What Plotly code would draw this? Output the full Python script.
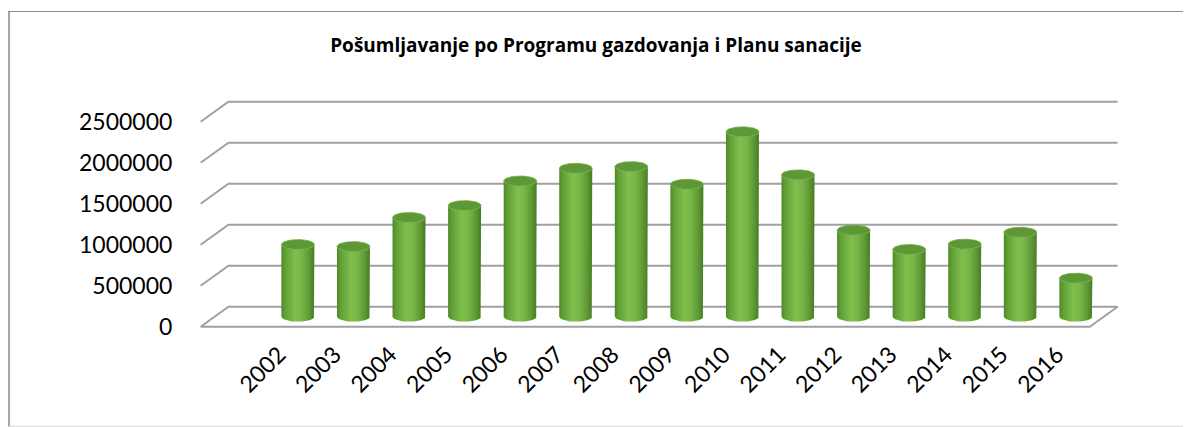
import numpy as np
import plotly.graph_objects as go

# ---- data ----
years = [str(y) for y in range(2002, 2017)]
values = [880000, 855000, 1210000, 1355000, 1655000, 1810000, 1830000, 1615000,
          2255000, 1730000, 1055000, 820000, 885000, 1030000, 470000]
y_ticks = [0, 500000, 1000000, 1500000, 2000000, 2500000]
y_tick_labels = [str(v) for v in y_ticks]
title_text = "Pošumljavanje po Programu gazdovanja i Planu sanacije"

# ---- geometry (pixel layout of the pseudo-3D frame) ----
OFF = 8                                        # browser body margin
W, H = 1191 - OFF, 427 - OFF
PL, PR, PT, PB = 200 - OFF, 1120 - OFF, 90 - OFF, 330 - OFF   # plot area in figure pixels
X0PX, XSTEP = 284.0 - OFF, 55.57               # front position of category 0, category step
Y0PX, YPX = 326.7 - OFF, 82.0 / 1e6            # front position of value 0, pixels per unit
DX = 0.5                                       # depth offset (categories)
DY = 20.0 / YPX                                # depth offset (value units)
RX = 16.5 / XSTEP                              # cylinder half width
RY = 5.0 / YPX                                 # ellipse half height
LABEL_SHIFT = -0.09                            # x-label anchor shift (categories)

x_range = [(PL - X0PX) / XSTEP, (PR - X0PX) / XSTEP]
y_range = [(Y0PX - PB) / YPX, (Y0PX - PT) / YPX]

FONT = "Lato, 'Open Sans', sans-serif"
TITLE_FONT = "'Open Sans', sans-serif"
GRID = "#a0a0a0"

fig = go.Figure()

# gridlines on back wall + left side wall
gx, gy = [], []
xl_front, xl_back = -1.5, -1.0
xr_front, xr_back = len(years) - 0.5, len(years)
for v in y_ticks[1:]:
    gx += [xl_front, xl_back, xr_back, None]
    gy += [v, v + DY, v + DY, None]
# floor parallelogram
gx += [xl_front, xr_front, xr_back, xl_back, xl_front, None]
gy += [0, 0, DY, DY, 0, None]
fig.add_trace(go.Scatter(x=gx, y=gy, mode="lines", line=dict(color=GRID, width=2),
                         hoverinfo="skip", showlegend=False))

body_scale = [[0.0, "#4e8928"], [0.12, "#62a037"], [0.42, "#7ebf4d"],
              [0.62, "#77b647"], [0.85, "#5e9834"], [1.0, "#477c23"]]

t_front = np.linspace(np.pi, 2 * np.pi, 40)
t_full = np.linspace(0, 2 * np.pi, 80)
for i, (yr, v) in enumerate(zip(years, values)):
    xc = i + DX / 2
    yb = DY / 2
    yt = v + DY / 2
    bx = [xc - RX, xc - RX] + list(xc + RX * np.cos(t_front)) + [xc + RX, xc + RX] + \
         list(xc + RX * np.cos(t_front[::-1]))
    by = [yb, yt] + list(yt + RY * np.sin(t_front)) + [yt, yb] + \
         list(yb + RY * np.sin(t_front[::-1]))
    fig.add_trace(go.Scatter(
        x=bx, y=by, mode="lines", fill="toself", line=dict(width=0),
        fillgradient=dict(type="horizontal", colorscale=body_scale,
                          start=xc - RX, stop=xc + RX),
        name=yr, hovertemplate=f"{yr}: {v}<extra></extra>", showlegend=False))
    fig.add_trace(go.Scatter(
        x=list(xc + RX * np.cos(t_full)), y=list(yt + RY * np.sin(t_full)),
        mode="lines", fill="toself", line=dict(width=0.8, color="#72ab46"),
        fillcolor="#5e9836", hoverinfo="skip", showlegend=False))


def px_to_paper_x(px):
    return (px - OFF - PL) / (PR - PL)


def px_to_paper_y(py):
    return (PB - (py - OFF)) / (PB - PT)


# chart border (reference pixel coordinates)
fig.add_shape(type="line", xref="paper", yref="paper",
              x0=px_to_paper_x(8.8), x1=px_to_paper_x(8.8),
              y0=px_to_paper_y(11.5), y1=px_to_paper_y(427),
              line=dict(color="#a6a6a6", width=2.5))
fig.add_shape(type="line", xref="paper", yref="paper",
              x0=px_to_paper_x(8), x1=px_to_paper_x(1191),
              y0=px_to_paper_y(11.5), y1=px_to_paper_y(11.5),
              line=dict(color="#8c8c8c", width=1))
fig.add_shape(type="line", xref="paper", yref="paper",
              x0=px_to_paper_x(8), x1=px_to_paper_x(1191),
              y0=px_to_paper_y(426.3), y1=px_to_paper_y(426.3),
              line=dict(color="#d9d9d9", width=1))

fig.update_layout(
    template="none",
    width=W, height=H, autosize=False,
    margin=dict(l=PL, r=W - PR, t=PT, b=H - PB, pad=0),
    paper_bgcolor="white", plot_bgcolor="rgba(0,0,0,0)",
    showlegend=False,
    title=dict(text="<b>" + title_text + "</b>", x=0.5 + (596 - OFF - W / 2) / W,
               xref="container", xanchor="center",
               y=1 - (45 - OFF) / H, yref="container", yanchor="middle",
               font=dict(family=TITLE_FONT, size=19, color="black")),
    xaxis=dict(range=x_range, tickmode="array",
               tickvals=[i + LABEL_SHIFT for i in range(len(years))],
               ticktext=years, tickangle=-45, showgrid=False, zeroline=False,
               showline=False, ticks="outside", ticklen=1, tickcolor="rgba(0,0,0,0)",
               tickfont=dict(family=FONT, size=23, color="black"), automargin=False,
               fixedrange=True),
    yaxis=dict(range=y_range, tickmode="array", tickvals=y_ticks, ticktext=y_tick_labels,
               showgrid=False, zeroline=False, showline=False, ticks="outside",
               ticklen=22, tickcolor="rgba(0,0,0,0)",
               tickfont=dict(family=FONT, size=23, color="black"), automargin=False,
               fixedrange=True),
)

fig.write_html("out.html")
